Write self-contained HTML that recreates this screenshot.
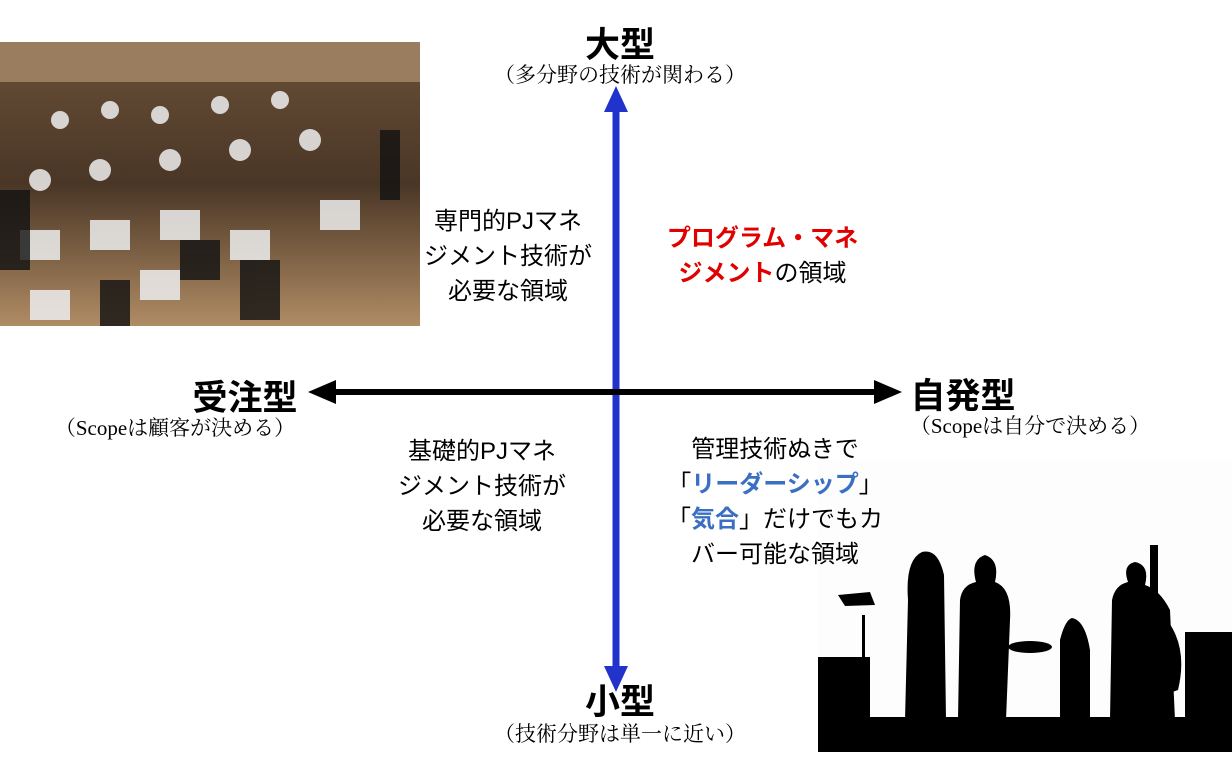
<!DOCTYPE html>
<html><head><meta charset="utf-8"><style>
body{margin:0;width:1232px;height:760px;background:#fff;position:relative;overflow:hidden;font-family:"Liberation Sans","Noto Sans CJK JP",sans-serif;color:#000}
.t{position:absolute;text-align:center;white-space:nowrap}
.big{font-size:35px;font-weight:bold}
.sm{font-size:21px;font-family:"Liberation Serif","Noto Serif CJK SC","Noto Sans CJK JP",serif}
.md{font-size:24px;line-height:35px}
.r{color:#e00000;font-weight:bold}.b{color:#3a6fc4;font-weight:bold}
</style></head><body>
<svg width="1232" height="760" style="position:absolute;left:0;top:0">
<defs><linearGradient id="o" x1="0" y1="0" x2="0" y2="1"><stop offset="0" stop-color="#6a5038"/><stop offset="0.5" stop-color="#4a3626"/><stop offset="1" stop-color="#b08c64"/></linearGradient></defs>
<rect x="0" y="42" width="420" height="284" fill="url(#o)"/>
<rect x="0" y="42" width="420" height="40" fill="#9a7c5e"/>
<g fill="#eee" opacity="0.85">
<circle cx="60" cy="120" r="9"/><circle cx="110" cy="110" r="9"/><circle cx="160" cy="115" r="9"/><circle cx="220" cy="105" r="9"/><circle cx="280" cy="100" r="9"/>
<circle cx="40" cy="180" r="11"/><circle cx="100" cy="170" r="11"/><circle cx="170" cy="160" r="11"/><circle cx="240" cy="150" r="11"/><circle cx="310" cy="140" r="11"/>
<rect x="20" y="230" width="40" height="30"/><rect x="90" y="220" width="40" height="30"/><rect x="160" y="210" width="40" height="30"/><rect x="230" y="230" width="40" height="30"/><rect x="320" y="200" width="40" height="30"/><rect x="30" y="290" width="40" height="30"/><rect x="140" y="270" width="40" height="30"/>
</g>
<g fill="#111" opacity="0.8"><rect x="240" y="260" width="40" height="60"/><rect x="100" y="280" width="30" height="46"/><rect x="380" y="130" width="20" height="70"/><rect x="0" y="190" width="30" height="80"/><rect x="180" y="240" width="40" height="40"/></g>
<rect x="818" y="460" width="414" height="292" fill="#fdfdfd"/>
<g fill="#000">
<rect x="818" y="717" width="414" height="35"/>
<rect x="818" y="657" width="52" height="62"/>
<rect x="1185" y="632" width="47" height="90"/>
<path d="M905 720 L908 600 Q905 560 922 552 Q938 548 944 575 L946 720 Z"/>
<path d="M958 720 L960 600 Q962 585 976 582 Q970 560 985 555 Q1000 560 995 582 Q1012 588 1010 620 L1006 720 Z"/>
<path d="M1060 720 L1060 640 Q1065 620 1072 618 Q1085 620 1090 650 L1090 720 Z"/>
<ellipse cx="1030" cy="647" rx="22" ry="6"/>
<path d="M1110 720 L1112 600 Q1115 585 1128 582 Q1122 565 1135 562 Q1150 565 1145 585 Q1160 590 1170 610 L1175 720 Z"/>
<path d="M1150 545 L1158 545 L1158 610 Q1190 640 1178 690 L1150 700 Z"/>
<rect x="862" y="615" width="3" height="60"/><path d="M838 595 L870 592 L875 605 L845 606 Z"/>
</g>
<line x1="616" y1="108" x2="616" y2="670" stroke="#2233cc" stroke-width="7"/>
<polygon points="616,86 604,112 628,112" fill="#2233cc"/>
<polygon points="616,692 604,666 628,666" fill="#2233cc"/>
<line x1="330" y1="392" x2="880" y2="392" stroke="#000" stroke-width="6"/>
<polygon points="308,392 336,380 336,404" fill="#000"/>
<polygon points="902,392 874,380 874,404" fill="#000"/>
</svg>
<div class="t big" style="left:560px;top:17px;width:120px">大型</div>
<div class="t sm" style="left:440px;top:59px;width:360px">（多分野の技術が関わる）</div>
<div class="t md" style="left:408px;top:204px;width:200px">専門的PJマネ<br>ジメント技術が<br>必要な領域</div>
<div class="t md" style="left:640px;top:221px;width:245px"><span class="r">プログラム・マネ</span><br><span class="r">ジメント</span>の領域</div>
<div class="t big" style="left:180px;top:370px;width:130px">受注型</div>
<div class="t sm" style="left:10px;top:412px;width:330px">（Scopeは顧客が決める）</div>
<div class="t big" style="left:898px;top:368px;width:130px">自発型</div>
<div class="t sm" style="left:890px;top:410px;width:280px">（Scopeは自分で決める）</div>
<div class="t md" style="left:382px;top:434px;width:200px">基礎的PJマネ<br>ジメント技術が<br>必要な領域</div>
<div class="t md" style="left:645px;top:432px;width:260px">管理技術ぬきで<br>「<span class="b">リーダーシップ</span>」<br>「<span class="b">気合</span>」だけでもカ<br>バー可能な領域</div>
<div class="t big" style="left:560px;top:674px;width:120px">小型</div>
<div class="t sm" style="left:440px;top:718px;width:360px">（技術分野は単一に近い）</div>
</body></html>
